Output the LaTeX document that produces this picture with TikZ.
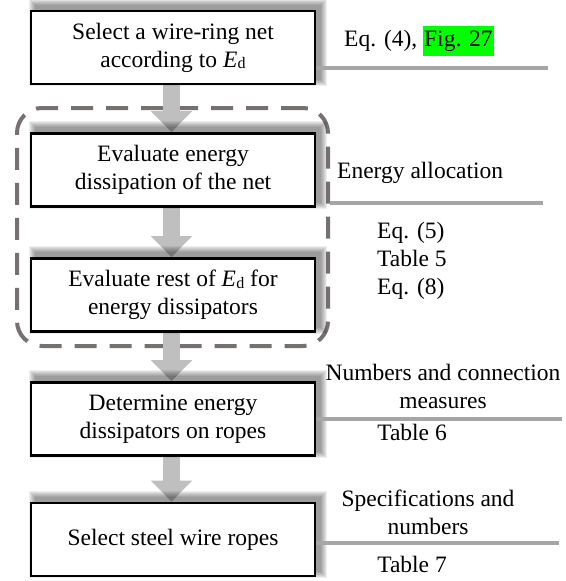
\documentclass[tikz,border=0pt]{standalone}
\usepackage{fontspec}
\setmainfont{Liberation Serif}
\usetikzlibrary{arrows.meta,calc}
\definecolor{arrowgray}{HTML}{BFBFBF}
\definecolor{dashgray}{HTML}{767171}
\definecolor{linegray}{HTML}{A6A6A6}
\definecolor{hlgreen}{HTML}{00FF00}
\newcommand\Ed{\textit{E}\kern0.3pt\raisebox{-1.5pt}{\fontsize{16}{16}\selectfont d}}
\newcommand\hlbox[1]{{\setlength\fboxsep{1pt}\colorbox{hlgreen}{\strut #1}}}
\pgfdeclarelayer{grp}
\pgfdeclarelayer{arr}
\pgfdeclarelayer{shd}
\pgfsetlayers{grp,arr,shd,main}
\begin{document}
\begin{tikzpicture}[x=1pt,y=-1pt,
  every node/.style={font=\fontsize{23.5}{28}\selectfont},
  stepbox/.style={draw=black, line width=2.7pt, fill=white, minimum width=284pt, minimum height=73pt, align=center, inner sep=0pt},
  flowarrow/.style={draw=arrowgray, line width=17pt, -{Triangle[width=40pt,length=21pt]}},
  sideline/.style={draw=linegray, line width=3.5pt},
  grpbox/.style={draw=dashgray, line width=4pt, dash pattern=on 22pt off 13pt, rounded corners=25pt, minimum width=311pt, minimum height=238pt, inner sep=0pt},
  note/.style={inner sep=0pt, align=center},
  shadowlayer/.style={fill=black, opacity=0.065}
]
\useasboundingbox (0,0) rectangle (565,581);

% step boxes
\node[stepbox] (b1) at (173,47.5) {Select a wire-ring net\\according to \Ed};
\node[stepbox] (b2) at (173,170) {Evaluate energy\\dissipation of the net};
\node[stepbox] (b3) at (173,295) {Evaluate rest of \Ed{} for\\energy dissipators};
\node[stepbox] (b4) at (173,419) {Determine energy\\dissipators on ropes};
\node[stepbox] (b5) at (173,539.5) {Select steel wire ropes};

% soft shadows
\begin{pgfonlayer}{shd}
\foreach \n in {b1,b2,b3,b4,b5}{
  \foreach \i in {0,...,6}{
    \fill[shadowlayer] ([xshift={(5-\i)*1pt}, yshift={(5-\i)*1pt}]\n.south west) rectangle ([xshift={(5+\i)*1pt}, yshift={(5+\i)*1pt}]\n.north east);
  }
}
\end{pgfonlayer}

% dashed group
\begin{pgfonlayer}{grp}
\node[grpbox] (grp) at (172.5,227) {};
\end{pgfonlayer}

% arrows
\begin{pgfonlayer}{arr}
\draw[flowarrow] ([xshift=-1.5pt]b1.south) -- ([xshift=-1.5pt]b2.north);
\draw[flowarrow] ([xshift=-1.5pt]b2.south) -- ([xshift=-1.5pt]b3.north);
\draw[flowarrow] ([xshift=-1.5pt]b3.south) -- ([xshift=-1.5pt]b4.north);
\draw[flowarrow] ([xshift=-1.5pt]b4.south) -- ([xshift=-1.5pt]b5.north);
\end{pgfonlayer}

% side lines
\coordinate (l1a) at (316,68);  \coordinate (l1b) at (548,68);
\coordinate (l2a) at (330,203); \coordinate (l2b) at (543,203);
\coordinate (l3a) at (316,419); \coordinate (l3b) at (562,419);
\coordinate (l4a) at (316,543); \coordinate (l4b) at (559,543);
\draw[sideline] (l1a) -- (l1b);
\draw[sideline] (l2a) -- (l2b);
\draw[sideline] (l3a) -- (l3b);
\draw[sideline] (l4a) -- (l4b);

% side notes
\node[note, anchor=west] (t1) at (344,41) {Eq. (4), \hlbox{Fig. 27}};
\node[note, anchor=west] (t2) at (337,173) {Energy allocation};
\node[note, anchor=west, align=left] (t3) at (377,261) {Eq. (5)\\Table 5\\Eq. (8)};
\node[note] (t4) at (443,386) {Numbers and connection\\measures};
\node[note] (t5) at (412,432) {Table 6};
\node[note] (t6) at (428,512) {Specifications and\\numbers};
\node[note] (t7) at (412,564) {Table 7};
\end{tikzpicture}
\end{document}
